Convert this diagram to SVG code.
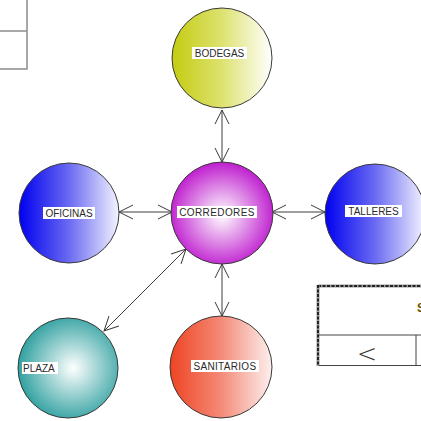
<svg xmlns="http://www.w3.org/2000/svg" width="421" height="421" viewBox="0 0 421 421">
  <style>
    .node { stroke: #3a3a3a; stroke-width: 1; }
    .lbl-bg { fill: #ffffff; }
    .lbl { font-family: "Liberation Sans", Arial, sans-serif; font-size: 10px; fill: #2a2a2a; }
    .mid { text-anchor: middle; }
    .link { stroke: #3c3c3c; stroke-width: 1; fill: none; marker-start: url(#arr); marker-end: url(#arr); }
    .frame { stroke: #8c8c8c; stroke-width: 1.5; fill: none; }
    .grid { stroke: #444; stroke-width: 1; fill: none; }
  </style>
  <defs>
    <marker id="arr" viewBox="0 0 16 16" refX="15" refY="8" markerWidth="16" markerHeight="16" markerUnits="userSpaceOnUse" orient="auto-start-reverse">
      <path d="M1,1 L15,8 L1,15" fill="none" stroke="#3c3c3c" stroke-width="1"/>
    </marker>
    <linearGradient id="gYellow" x1="0" y1="0" x2="1" y2="0">
      <stop offset="0" stop-color="#c4cc10"/>
      <stop offset="0.5" stop-color="#dde270"/>
      <stop offset="1" stop-color="#ffffff"/>
    </linearGradient>
    <linearGradient id="gBlue" x1="0" y1="0" x2="1" y2="0">
      <stop offset="0" stop-color="#0000f0"/>
      <stop offset="0.5" stop-color="#6a6af2"/>
      <stop offset="1" stop-color="#f4f4ff"/>
    </linearGradient>
    <linearGradient id="gRed" x1="0" y1="0" x2="1" y2="0">
      <stop offset="0" stop-color="#ee4422"/>
      <stop offset="0.5" stop-color="#f48a78"/>
      <stop offset="1" stop-color="#fdf0ee"/>
    </linearGradient>
    <radialGradient id="gMagenta" cx="0.5" cy="0.52" r="0.55">
      <stop offset="0" stop-color="#ffffff"/>
      <stop offset="1" stop-color="#bb11cc"/>
    </radialGradient>
    <radialGradient id="gTeal" cx="0.55" cy="0.5" r="0.55">
      <stop offset="0" stop-color="#ffffff"/>
      <stop offset="1" stop-color="#30a0a0"/>
    </radialGradient>
  </defs>

  <!-- partial frame, top left -->
  <g id="frame-topleft">
    <path class="frame" d="M27,0 V69 H0 M0,31 H27"/>
  </g>

  <!-- partial table, right -->
  <g id="table-right">
    <line x1="318" y1="286" x2="421" y2="286" stroke="#9a9a9a" stroke-width="3"/>
    <line x1="318" y1="286" x2="421" y2="286" stroke="#222" stroke-width="2" stroke-dasharray="3 1.5"/>
    <line x1="318" y1="285" x2="318" y2="366" stroke="#9a9a9a" stroke-width="3"/>
    <line x1="318" y1="285" x2="318" y2="366" stroke="#222" stroke-width="2" stroke-dasharray="3 1.5"/>
    <path class="grid" d="M319,335 H421 M319,365.5 H421 M416,335 V366"/>
    <text x="367" y="362" font-family="DejaVu Sans, sans-serif" font-size="24" font-weight="200" fill="#333" text-anchor="middle">&lt;</text>
    <text x="417" y="312" font-family="Liberation Sans, Arial, sans-serif" font-size="12" font-weight="bold" fill="#6b5200">S</text>
  </g>

  <!-- connectors -->
  <g id="connectors">
    <line class="link" x1="222" y1="110" x2="222" y2="162"/>
    <line class="link" x1="172" y1="212" x2="119" y2="212"/>
    <line class="link" x1="272" y1="212" x2="325" y2="212"/>
    <line class="link" x1="222" y1="264" x2="222" y2="316"/>
    <line class="link" x1="186" y1="249" x2="104" y2="331"/>
  </g>

  <g id="bodegas">
    <circle class="node" cx="222" cy="58" r="50" fill="url(#gYellow)"/>
    <rect class="lbl-bg" x="192" y="47" width="55" height="12"/>
    <text class="lbl mid" x="219.5" y="57">BODEGAS</text>
  </g>

  <g id="corredores">
    <circle class="node" cx="222" cy="213" r="51" fill="url(#gMagenta)"/>
    <rect class="lbl-bg" x="177" y="206" width="80" height="12"/>
    <text class="lbl mid" x="217" y="216" letter-spacing="0.4">CORREDORES</text>
  </g>

  <g id="oficinas">
    <circle class="node" cx="69" cy="213" r="50" fill="url(#gBlue)"/>
    <rect class="lbl-bg" x="43" y="207" width="52" height="12"/>
    <text class="lbl mid" x="69" y="217">OFICINAS</text>
  </g>

  <g id="talleres">
    <circle class="node" cx="375" cy="214" r="50" fill="url(#gBlue)"/>
    <rect class="lbl-bg" x="345" y="205" width="57" height="12"/>
    <text class="lbl mid" x="373.5" y="215">TALLERES</text>
  </g>

  <g id="plaza">
    <circle class="node" cx="68" cy="368" r="50" fill="url(#gTeal)"/>
    <rect class="lbl-bg" x="22" y="362" width="36" height="12"/>
    <text class="lbl" x="23" y="372">PLAZA</text>
  </g>

  <g id="sanitarios">
    <circle class="node" cx="221" cy="367" r="51" fill="url(#gRed)"/>
    <rect class="lbl-bg" x="191" y="360" width="68" height="12"/>
    <text class="lbl mid" x="225" y="370" letter-spacing="0.3">SANITARIOS</text>
  </g>
</svg>
